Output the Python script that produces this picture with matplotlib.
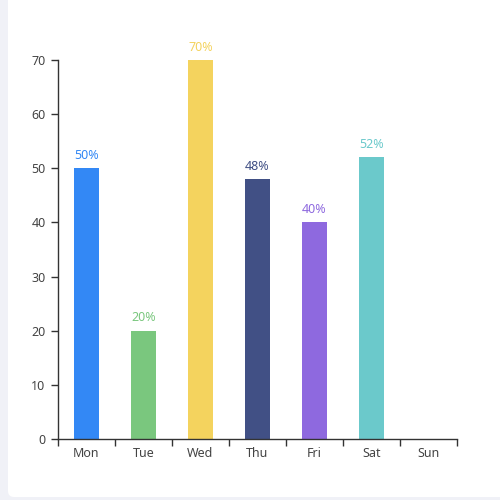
import numpy as np
import matplotlib.pyplot as plt
from matplotlib.patches import FancyBboxPatch

days = ["Mon", "Tue", "Wed", "Thu", "Fri", "Sat", "Sun"]
values = [50, 20, 70, 48, 40, 52, None]
labels = ["50%", "20%", "70%", "48%", "40%", "52%", ""]
colors = ["#3388f5", "#7ac77e", "#f4d35e", "#415085", "#8e69df", "#6bc9cb", "#cccccc"]

plt.rcParams['font.family'] = ['Noto Sans', 'DejaVu Sans']

fig = plt.figure(figsize=(5, 5), dpi=100)
fig.patch.set_facecolor("#f0f1f7")
# white rounded card behind the chart
panel = FancyBboxPatch((0.026, 0.016), 1.0, 1.0,
                       boxstyle="round,pad=0.01,rounding_size=0.012",
                       transform=fig.transFigure, facecolor="white", edgecolor="none", zorder=-1)
fig.patches.append(panel)

ax = fig.add_axes([0.116, 0.122, 0.798, 0.758])
ax.set_zorder(2)
ax.set_facecolor("none")

x = np.arange(len(days))
for i, v in enumerate(values):
    if v is None:
        continue
    ax.bar(x[i], v, width=0.44, color=colors[i], zorder=2)
    ax.text(x[i], v + 1.2, labels[i], ha="center", va="bottom", color=colors[i], fontsize=9)

ax.set_xlim(-0.5, len(days) - 0.5)
ax.set_ylim(0, 70)
ax.set_yticks(range(0, 71, 10))
ax.set_xticks(x)
ax.set_xticklabels(days)
ax.set_xticks(np.arange(-0.5, len(days)), minor=True)
ax.tick_params(axis="x", which="major", length=0, pad=6, labelsize=9, labelcolor="#444444")
ax.tick_params(axis="x", which="minor", length=5, color="#333333", width=1)
ax.tick_params(axis="y", length=5, color="#333333", width=1, pad=4, labelsize=9, labelcolor="#444444")
for side in ["top", "right"]:
    ax.spines[side].set_visible(False)
for side in ["left", "bottom"]:
    ax.spines[side].set_color("#333333")
    ax.spines[side].set_linewidth(1)

fig.savefig("out.png", dpi=100)
